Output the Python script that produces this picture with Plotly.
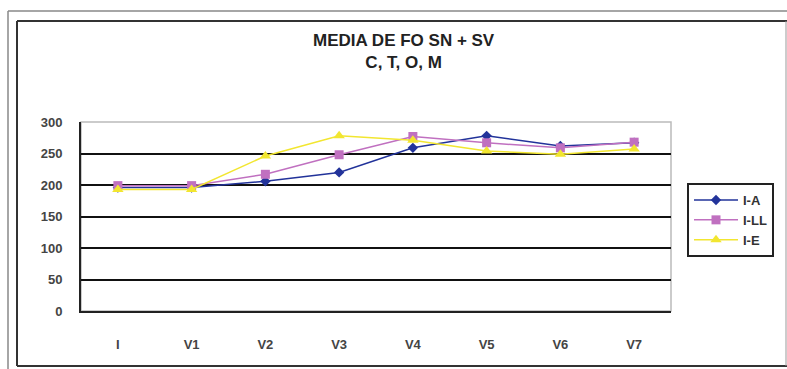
import plotly.graph_objects as go

categories = ["I", "V1", "V2", "V3", "V4", "V5", "V6", "V7"]
ia = [196, 196, 206, 220, 259, 278, 262, 267]
ill = [199, 199, 217, 248, 277, 267, 259, 268]
ie = [193, 193, 246, 278, 271, 254, 249, 257]
y_ticks = [0, 50, 100, 150, 200, 250, 300]

W, H = 787, 369
L, R, T, B = 81, 116, 122, 58
PW, PH = W - L - R, H - T - B

def px(x):
    return (x - L) / PW

def py(y):
    return (H - B - y) / PH

FAM = "Arial, Liberation Sans, sans-serif"

fig = go.Figure()
fig.add_trace(go.Scatter(x=categories, y=ia, name="I-A", mode="lines+markers",
                         line=dict(color="#22339A", width=1.5),
                         marker=dict(symbol="diamond", size=8, color="#22339A")))
fig.add_trace(go.Scatter(x=categories, y=ill, name="I-LL", mode="lines+markers",
                         line=dict(color="#C070C0", width=1.5),
                         marker=dict(symbol="square", size=9, color="#C070C0")))
fig.add_trace(go.Scatter(x=categories, y=ie, name="I-E", mode="lines+markers",
                         line=dict(color="#F2E630", width=1.5),
                         marker=dict(symbol="triangle-up", size=10, color="#F2E630")))

shapes = [
    dict(type="rect", xref="paper", yref="paper", x0=0, x1=1, y0=0, y1=1,
         line=dict(color="#BBBBBB", width=1.5), layer="below"),
    dict(type="line", xref="paper", yref="paper", x0=px(8), x1=px(790), y0=py(11), y1=py(11),
         line=dict(color="#888888", width=1.5)),
    dict(type="line", xref="paper", yref="paper", x0=px(8), x1=px(8), y0=py(11), y1=py(372),
         line=dict(color="#888888", width=1.5)),
    dict(type="line", xref="paper", yref="paper", x0=px(17), x1=px(790), y0=py(21), y1=py(21),
         line=dict(color="#333333", width=2)),
    dict(type="line", xref="paper", yref="paper", x0=px(17), x1=px(17), y0=py(21), y1=py(366),
         line=dict(color="#333333", width=2)),
    dict(type="line", xref="paper", yref="paper", x0=px(17), x1=px(790), y0=py(366), y1=py(366),
         line=dict(color="#333333", width=2)),
    dict(type="line", xref="paper", yref="paper", x0=px(786), x1=px(786), y0=py(21), y1=py(366),
         line=dict(color="#999999", width=1)),
]

fig.update_layout(
    width=W, height=H,
    margin=dict(l=L, r=R, t=T, b=B),
    paper_bgcolor="white", plot_bgcolor="white",
    font=dict(family=FAM, size=12, color="#222222"),
    showlegend=True,
    legend=dict(x=px(687), y=py(183), xanchor="left", yanchor="top",
                bordercolor="#222222", borderwidth=2, bgcolor="white",
                font=dict(family=FAM, size=13, color="#333333", weight="bold"),
                tracegroupgap=0, itemwidth=44),
    shapes=shapes,
    annotations=[dict(text="<b>MEDIA DE FO SN + SV<br>C, T, O, M</b>", xref="paper", yref="paper",
                      x=px(404), y=py(52), xanchor="center", yanchor="middle", showarrow=False,
                      font=dict(family=FAM, size=17, color="#222222"))],
)
tickfont = dict(family=FAM, size=13, color="#444444", weight="bold")
fig.update_xaxes(type="category", showgrid=False, showline=True, linecolor="#222222", linewidth=2,
                 ticks="outside", ticklen=20, tickcolor="rgba(0,0,0,0)",
                 tickfont=tickfont, range=[-0.5, 7.5], fixedrange=True)
fig.update_yaxes(range=[0, 300], tickvals=y_ticks, showgrid=True, gridcolor="#111111", gridwidth=2,
                 showline=True, linecolor="#222222", linewidth=2, zeroline=False,
                 ticks="outside", ticklen=14, tickcolor="rgba(0,0,0,0)",
                 tickfont=tickfont, fixedrange=True)

fig.write_html("out.html", config={"displayModeBar": False},
               post_script="document.body.style.margin='0';document.body.style.overflow='hidden';")
